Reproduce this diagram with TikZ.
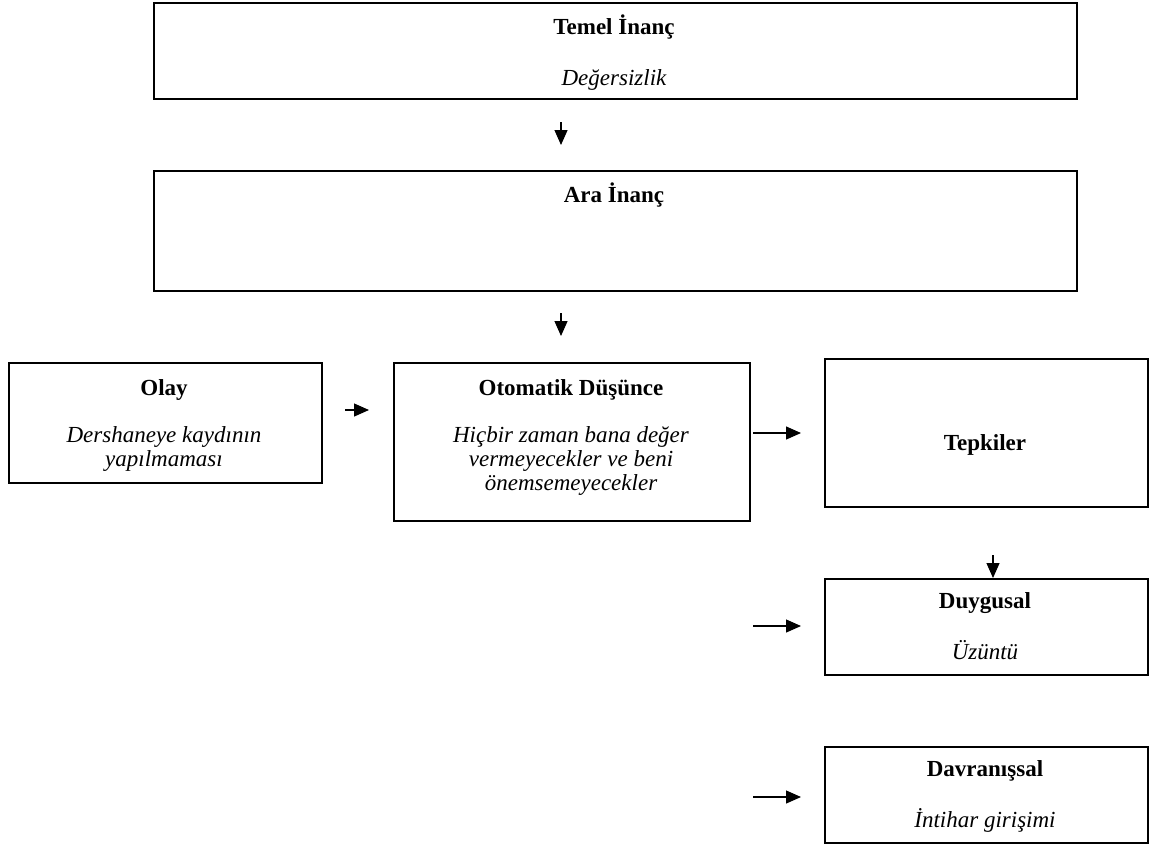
\documentclass[tikz,border=0pt]{standalone}
\usepackage{fontspec}
\setmainfont{Liberation Serif}
\usetikzlibrary{arrows.meta}
\tikzset{
  x=1pt, y=-1pt,
  box/.style={draw=black, line width=2pt, inner sep=0pt, anchor=north west},
  ttl/.style={font=\fontsize{23}{24}\selectfont\bfseries, inner sep=0pt, anchor=center},
  txt/.style={font=\fontsize{23}{24}\selectfont\itshape, inner sep=0pt, anchor=center, align=center},
  arr/.style={line width=1.3pt, -{Triangle[length=15pt,width=13pt]}}
}
\begin{document}
\begin{tikzpicture}
\useasboundingbox (0,0) rectangle (1150,844);
% boxes
\node[box, minimum width=923pt, minimum height=96pt] (temel) at (153,2) {};
\node[box, minimum width=923pt, minimum height=120pt] (ara) at (153,170) {};
\node[box, minimum width=313pt, minimum height=120pt] (olay) at (8,362) {};
\node[box, minimum width=356pt, minimum height=158pt] (oto) at (393,362) {};
\node[box, minimum width=323pt, minimum height=148pt] (tepki) at (824,358) {};
\node[box, minimum width=323pt, minimum height=96pt] (duyg) at (824,578) {};
\node[box, minimum width=323pt, minimum height=96pt] (davr) at (824,746) {};
% texts
\node[ttl] (t1) at (614,27) {Temel İnanç};
\node[txt] (t1b) at (614,80) {Değersizlik};
\node[ttl] (t2) at (614,195) {Ara İnanç};
\node[ttl] (t3) at (164,390) {Olay};
\node[txt] (t3b) at (164,449) {Dershaneye kaydının\\yapılmaması};
\node[ttl] (t4) at (571,390) {Otomatik Düşünce};
\node[txt] (t4b) at (571,461) {Hiçbir zaman bana değer\\vermeyecekler ve beni\\önemsemeyecekler};
\node[ttl] (t5) at (985,445) {Tepkiler};
\node[ttl] (t6) at (985,603) {Duygusal};
\node[txt] (t6b) at (985,650) {Üzüntü};
\node[ttl] (t7) at (985,771) {Davranışsal};
\node[txt] (t7b) at (985,820) {İntihar girişimi};
% arrows
\coordinate (a1s) at (561,122); \coordinate (a1e) at (561,145);
\coordinate (a2s) at (561,313); \coordinate (a2e) at (561,336);
\coordinate (a3s) at (345,410); \coordinate (a3e) at (369,410);
\coordinate (a4s) at (753,433); \coordinate (a4e) at (801,433);
\coordinate (a5s) at (993,555);
\coordinate (a6s) at (753,626); \coordinate (a6e) at (801,626);
\coordinate (a7s) at (753,797); \coordinate (a7e) at (801,797);
\draw[arr] (a1s) -- (a1e);
\draw[arr] (a2s) -- (a2e);
\draw[arr] (a3s) -- (a3e);
\draw[arr] (a4s) -- (a4e);
\draw[arr] (a5s) -- (a5s |- duyg.north);
\draw[arr] (a6s) -- (a6e);
\draw[arr] (a7s) -- (a7e);
\end{tikzpicture}
\end{document}
